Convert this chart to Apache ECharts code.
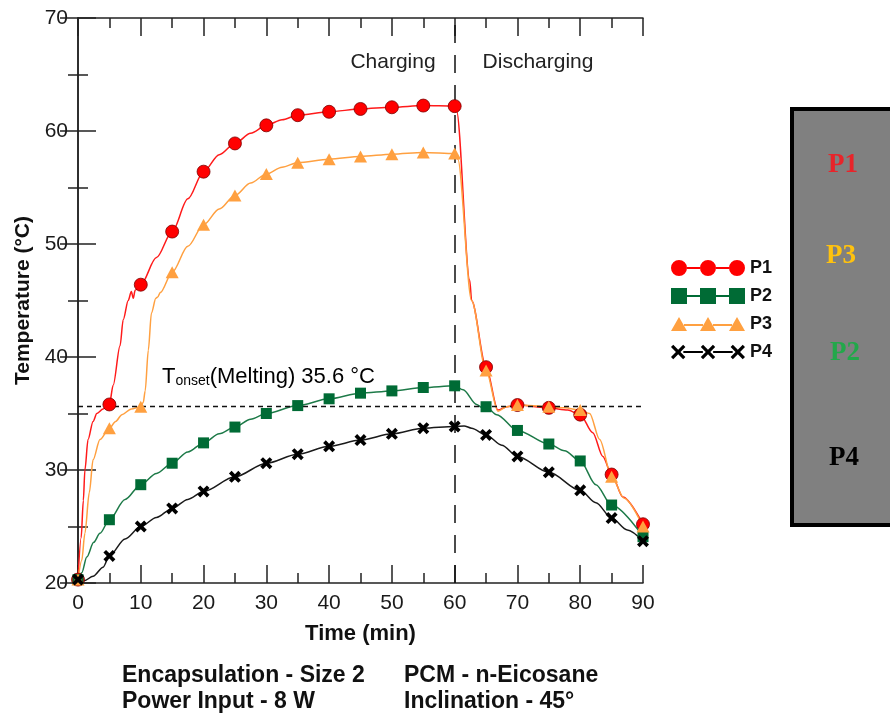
<!DOCTYPE html>
<html>
<head>
<meta charset="utf-8">
<title>Temperature history P1-P4</title>
<script src="https://cdn.jsdelivr.net/npm/echarts@6/dist/echarts.min.js"></script>
<style>
  html, body { margin: 0; padding: 0; background: #ffffff; }
  #chart { width: 890px; height: 715px; }
</style>
</head>
<body>
<div id="chart"></div>
<script>
// Sampling times of the plotted markers (min)
const timeMarks = [0, 5, 10, 15, 20, 25, 30, 35, 40, 45, 50, 55, 60, 65, 70, 75, 80, 85, 90];

// Thermocouple temperatures at the marker times (°C)
const p1 = [20.3, 35.8, 46.4, 51.1, 56.4, 58.9, 60.5, 61.4, 61.7, 61.95, 62.1, 62.25, 62.2, 39.1, 35.75, 35.5, 34.9, 29.6, 25.2];
const p2 = [20.3, 25.6, 28.7, 30.6, 32.4, 33.8, 35.0, 35.7, 36.3, 36.8, 37.0, 37.3, 37.45, 35.6, 33.5, 32.3, 30.8, 26.9, 24.1];
const p3 = [20.3, 33.7, 35.6, 47.5, 51.7, 54.3, 56.2, 57.2, 57.5, 57.75, 57.95, 58.1, 58.0, 38.8, 35.75, 35.6, 35.3, 29.4, 25.0];
const p4 = [20.3, 22.4, 25.0, 26.6, 28.1, 29.4, 30.6, 31.4, 32.1, 32.65, 33.2, 33.7, 33.85, 33.1, 31.2, 29.8, 28.2, 25.75, 23.7];

// Additional logged readings between marker times [min, °C]
const p1Logged = [[0.5, 24.0], [0.85, 27.3], [1.1, 30.0], [1.6, 32.7], [2.4, 34.3], [3.0, 35.0], [4.0, 35.4],
  [5.6, 37.5], [6.7, 41.0], [7.2, 43.3], [8.0, 45.0], [8.5, 45.8], [8.8, 45.2], [9.1, 45.9],
  [12.5, 48.8], [17.5, 54.0], [22.5, 57.9], [27.5, 59.8], [32.5, 61.0],
  [60.3, 61.8], [62.4, 46.8], [62.7, 45.0], [66.9, 35.3], [68.3, 35.6], [78, 35.3],
  [82.0, 33.3], [83.6, 31.2], [86.8, 27.6]];
const p2Logged = [[0.6, 20.9], [1.4, 22.3], [2.5, 23.6], [3.5, 24.4], [7.5, 27.4], [12.5, 29.7], [17.5, 31.6],
  [22.5, 33.2], [27.5, 34.5], [61.35, 37.1], [63.5, 35.8], [64.3, 35.55], [66.7, 34.9], [77.5, 31.7], [82.5, 28.7]];
const p3Logged = [[0.6, 22.0], [1.1, 24.4], [1.8, 28.0], [2.4, 30.9], [3.5, 32.7], [6.0, 34.3], [7.0, 34.9], [8.5, 35.4],
  [10.4, 36.0], [10.7, 37.0], [11.2, 40.6], [11.7, 43.9], [12.4, 45.2], [12.7, 45.3], [13.1, 45.7],
  [17.5, 49.8], [22.5, 53.1], [27.5, 55.4], [32.5, 56.8],
  [60.5, 57.5], [62.7, 45.0], [66.9, 35.2], [68.3, 35.6], [77.5, 35.5], [81.5, 35.0], [83.1, 32.7], [87.0, 27.5]];
const p4Logged = [[1.0, 20.2], [2.4, 20.6], [4.0, 21.4], [7.5, 23.9], [12.5, 25.8], [17.5, 27.4],
  [61.5, 33.9], [62.7, 33.7], [67.5, 32.2], [82.5, 27.1], [87.5, 24.7]];

// Melting onset temperature and the charge/discharge switch time
const onsetTemp = 35.6;
const switchTime = 60;

// Axis ranges and tick spacing
const xMin = 0, xMax = 90, xStep = 10;
const yMin = 20, yMax = 70, yStep = 10;

const seriesNames = ['P1', 'P2', 'P3', 'P4'];

function curve(values, logged) {
  const pts = timeMarks.map((t, i) => [t, values[i]]).concat(logged);
  pts.sort((a, b) => a[0] - b[0]);
  return pts;
}
function marks(values) {
  return timeMarks.map((t, i) => [t, values[i]]);
}

const FONT = '"Liberation Sans", Arial, sans-serif';
const SERIF = '"Liberation Serif", "Times New Roman", serif';

const colors = {
  P1: { line: '#ff1a1a', fill: '#ff0000' },
  P2: { line: '#1d7a48', fill: '#006b35' },
  P3: { line: '#ffa040', fill: '#ffa040' },
  P4: { line: '#1a1a1a', fill: '#000000' }
};

// Cross marker
const crossPath = 'path://M0,2.2 L2.2,0 L5,2.8 L7.8,0 L10,2.2 L7.2,5 L10,7.8 L7.8,10 L5,7.2 L2.2,10 L0,7.8 L2.8,5 Z';

// Legend icons: three markers joined by a line
const circ = (cx) => `M${cx - 8},8A8,8 0 1,1 ${cx + 8},8A8,8 0 1,1 ${cx - 8},8Z`;
const sq = (cx) => `M${cx - 8},0H${cx + 8}V16H${cx - 8}Z`;
const tri = (cx) => `M${cx - 8},15L${cx},1L${cx + 8},15Z`;
const crs = (cx) => `M${cx - 7},3.2L${cx - 4.8},1L${cx},5.8L${cx + 4.8},1L${cx + 7},3.2L${cx + 2.2},8L${cx + 7},12.8L${cx + 4.8},15L${cx},10.2L${cx - 4.8},15L${cx - 7},12.8L${cx - 2.2},8Z`;
const legendIcons = {
  P1: 'path://' + circ(8) + circ(37) + circ(66) + 'M16,7H29V9H16ZM45,7H58V9H45Z',
  P2: 'path://' + sq(8) + sq(37) + sq(66) + 'M16,7H29V9H16ZM45,7H58V9H45Z',
  P3: 'path://' + tri(8) + tri(37) + tri(66) + 'M13,8H32V10H13ZM42,8H61V10H42Z',
  P4: 'path://' + crs(8) + crs(37) + crs(66) + 'M13,7H32V9H13ZM42,7H61V9H42Z'
};

const markerStyle = {
  P1: { symbol: 'circle', symbolSize: 13, itemStyle: { color: colors.P1.fill, borderColor: '#7a0000', borderWidth: 0.8, opacity: 1 } },
  P2: { symbol: 'rect', symbolSize: 11, itemStyle: { color: colors.P2.fill, opacity: 1 } },
  P3: { symbol: 'triangle', symbolSize: [13, 12], itemStyle: { color: colors.P3.fill, opacity: 1 } },
  P4: { symbol: crossPath, symbolSize: 12, itemStyle: { color: colors.P4.fill, opacity: 1 } }
};

const dataSets = { P1: [p1, p1Logged], P2: [p2, p2Logged], P3: [p3, p3Logged], P4: [p4, p4Logged] };

const series = [];
// Reference lines: melting onset and the charging/discharging switch
series.push({
  type: 'line', name: 'ref', data: [], z: 1, silent: true,
  xAxisIndex: 0, yAxisIndex: 0,
  markLine: {
    silent: true, symbol: ['none', 'none'], label: { show: false }, animation: false,
    emphasis: { disabled: true },
    data: [
      { xAxis: switchTime, lineStyle: { color: '#111', width: 1.5, type: [18, 12] } },
      { yAxis: onsetTemp, lineStyle: { color: '#111', width: 1.3, type: [5, 4] } }
    ]
  }
});
seriesNames.forEach((name, i) => {
  const [vals, logged] = dataSets[name];
  series.push({
    type: 'line', name: name, data: curve(vals, logged),
    showSymbol: false, smooth: 0.3, smoothMonotone: 'x',
    lineStyle: { color: colors[name].line, width: 1.5 },
    itemStyle: { color: colors[name].fill },
    z: 2 + i, silent: true, emphasis: { disabled: true }
  });
});
seriesNames.forEach((name, i) => {
  const [vals] = dataSets[name];
  series.push(Object.assign({
    type: 'scatter', name: name, data: marks(vals),
    z: 10 + i, silent: true, emphasis: { disabled: true }
  }, markerStyle[name]));
});

const tickCommon = {
  axisLine: { show: true, lineStyle: { color: '#222', width: 1.5 } },
  axisTick: { show: true, inside: true, length: 18, lineStyle: { color: '#222', width: 1.5 } },
  minorTick: { show: true, splitNumber: 2, length: 10, lineStyle: { color: '#222', width: 1.5 } },
  splitLine: { show: false },
  minorSplitLine: { show: false }
};

const option = {
  animation: false,
  backgroundColor: '#ffffff',
  grid: { left: 78, right: 247, top: 18, bottom: 132, containLabel: false },
  xAxis: [
    Object.assign({
      type: 'value', position: 'bottom', min: xMin, max: xMax, interval: xStep,
      name: 'Time (min)', nameLocation: 'middle', nameGap: 40,
      nameTextStyle: { fontFamily: FONT, fontSize: 22, fontWeight: 'bold', color: '#111' },
      axisLabel: { fontFamily: FONT, fontSize: 21, color: '#1a1a1a', margin: 10 }
    }, tickCommon),
    Object.assign({
      type: 'value', position: 'top', min: xMin, max: xMax, interval: xStep,
      axisLabel: { show: false }
    }, tickCommon)
  ],
  yAxis: [
    Object.assign({
      type: 'value', position: 'left', min: yMin, max: yMax, interval: yStep,
      name: 'Temperature (°C)', nameLocation: 'middle', nameGap: 43, nameRotate: 90,
      nameTextStyle: { fontFamily: FONT, fontSize: 21, fontWeight: 'bold', color: '#111' },
      axisLabel: { fontFamily: FONT, fontSize: 21, color: '#1a1a1a', margin: 10 }
    }, tickCommon),
    Object.assign({
      type: 'value', position: 'right', min: yMin, max: yMax, interval: yStep,
      axisLabel: { show: false }
    }, tickCommon)
  ],
  legend: {
    orient: 'vertical', left: 666, top: 254, itemWidth: 74, itemHeight: 16, itemGap: 10,
    selectedMode: false,
    textStyle: { fontFamily: FONT, fontSize: 18, fontWeight: 'bold', color: '#111' },
    data: seriesNames.map(n => ({
      name: n, icon: legendIcons[n],
      itemStyle: { color: colors[n].fill, borderWidth: 0 }
    }))
  },
  graphic: [
    { type: 'text', x: 393, y: 62, silent: true,
      style: { text: 'Charging', fill: '#222', font: '21px ' + FONT, textAlign: 'center', textVerticalAlign: 'middle' } },
    { type: 'text', x: 538, y: 62, silent: true,
      style: { text: 'Discharging', fill: '#222', font: '21px ' + FONT, textAlign: 'center', textVerticalAlign: 'middle' } },
    { type: 'text', x: 162, y: 362, silent: true,
      style: {
        text: '{m|T}{s|onset}{m|(Melting) 35.6 °C}',
        rich: {
          m: { fontFamily: FONT, fontSize: 22, color: '#1a1a1a', verticalAlign: 'bottom', lineHeight: 26 },
          s: { fontFamily: FONT, fontSize: 14, color: '#1a1a1a', verticalAlign: 'bottom', lineHeight: 11 }
        }
      } },
    { type: 'text', x: 122, y: 676, silent: true,
      style: { text: 'Encapsulation - Size 2', fill: '#111', font: 'bold 23px ' + FONT, textVerticalAlign: 'middle' } },
    { type: 'text', x: 122, y: 702, silent: true,
      style: { text: 'Power Input - 8 W', fill: '#111', font: 'bold 23px ' + FONT, textVerticalAlign: 'middle' } },
    { type: 'text', x: 404, y: 676, silent: true,
      style: { text: 'PCM - n-Eicosane', fill: '#111', font: 'bold 23px ' + FONT, textVerticalAlign: 'middle' } },
    { type: 'text', x: 404, y: 702, silent: true,
      style: { text: 'Inclination - 45°', fill: '#111', font: 'bold 23px ' + FONT, textVerticalAlign: 'middle' } },
    // Sensor placement sketch
    { type: 'rect', silent: true, shape: { x: 792, y: 109, width: 120, height: 416 },
      style: { fill: '#808080', stroke: '#000', lineWidth: 4 } },
    { type: 'text', x: 843, y: 165, silent: true,
      style: { text: 'P1', fill: '#e8242a', font: 'bold 27px ' + SERIF, textAlign: 'center', textVerticalAlign: 'middle' } },
    { type: 'text', x: 841, y: 256, silent: true,
      style: { text: 'P3', fill: '#ffc20e', font: 'bold 27px ' + SERIF, textAlign: 'center', textVerticalAlign: 'middle' } },
    { type: 'text', x: 845, y: 353, silent: true,
      style: { text: 'P2', fill: '#22a84a', font: 'bold 27px ' + SERIF, textAlign: 'center', textVerticalAlign: 'middle' } },
    { type: 'text', x: 844, y: 458, silent: true,
      style: { text: 'P4', fill: '#000', font: 'bold 27px ' + SERIF, textAlign: 'center', textVerticalAlign: 'middle' } }
  ],
  series: series
};

const chart = echarts.init(document.getElementById('chart'), null, { renderer: 'canvas' });
chart.setOption(option);
</script>
</body>
</html>
